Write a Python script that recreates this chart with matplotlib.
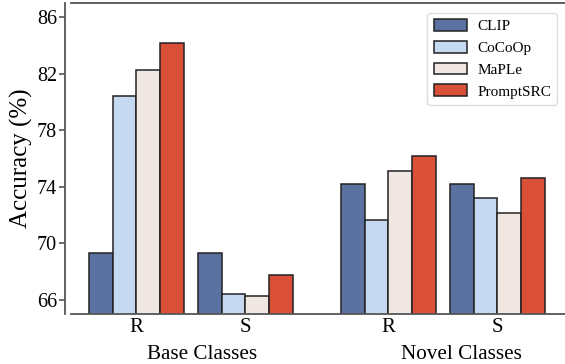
import matplotlib
matplotlib.use("Agg")
import matplotlib.pyplot as plt
import numpy as np

plt.rcParams["font.family"] = ["Liberation Serif", "DejaVu Serif"]

methods = ["CLIP", "CoCoOp", "MaPLe", "PromptSRC"]
colors = ["#5b72a1", "#c5d9f1", "#f1e7e2", "#d94f38"]
tick_labels = ["R", "S", "R", "S"]
group_names = ["Base Classes", "Novel Classes"]

clip = [69.3, 69.3, 74.2, 74.2]
cocoop = [80.45, 66.45, 71.65, 73.2]
maple = [82.25, 66.3, 75.1, 72.15]
promptsrc = [84.2, 67.75, 76.2, 74.65]
series = [clip, cocoop, maple, promptsrc]

positions = np.array([0.0, 1.0, 2.31, 3.31])
width = 0.218

fig = plt.figure(figsize=(5.65, 3.64), dpi=100)
ax = fig.add_axes([71 / 565, 50 / 364, 1 - 71 / 565, 311 / 364])

for i, (name, vals) in enumerate(zip(methods, series)):
    offs = (i - 1.5) * width
    ax.bar(positions + offs, vals, width, color=colors[i], edgecolor="#222222",
           linewidth=1.1, label=name)

ax.set_ylim(65, 87)
ax.set_xlim(-0.6, 3.93)
ax.set_yticks([66, 70, 74, 78, 82, 86])
ax.set_xticks(positions)
ax.set_xticklabels(tick_labels)
ax.tick_params(axis="y", labelsize=14.5, length=4, width=1.2, color="#555555", pad=2)
ax.tick_params(axis="x", labelsize=15, length=0, pad=3)

for side in ["left", "bottom", "top"]:
    ax.spines[side].set_color("#555555")
    ax.spines[side].set_linewidth(1.3)
ax.spines["right"].set_visible(False)
ax.spines["left"].set_position(("outward", 4))

ax.set_ylabel("Accuracy (%)", fontsize=18, labelpad=3)

ax.text(0.6, -0.13, group_names[0], transform=ax.get_xaxis_transform(),
        ha="center", va="center", fontsize=15.2)
ax.text(2.98, -0.13, group_names[1], transform=ax.get_xaxis_transform(),
        ha="center", va="center", fontsize=15.2)

leg = ax.legend(loc="upper right", bbox_to_anchor=(0.984, 0.968), borderaxespad=0,
                fontsize=11, handlelength=2.2, handleheight=0.8, labelspacing=0.5,
                borderpad=0.4, handletextpad=0.65, framealpha=1, fancybox=True)
leg.get_frame().set_edgecolor("#dddddd")

fig.savefig("out.png", dpi=100)
